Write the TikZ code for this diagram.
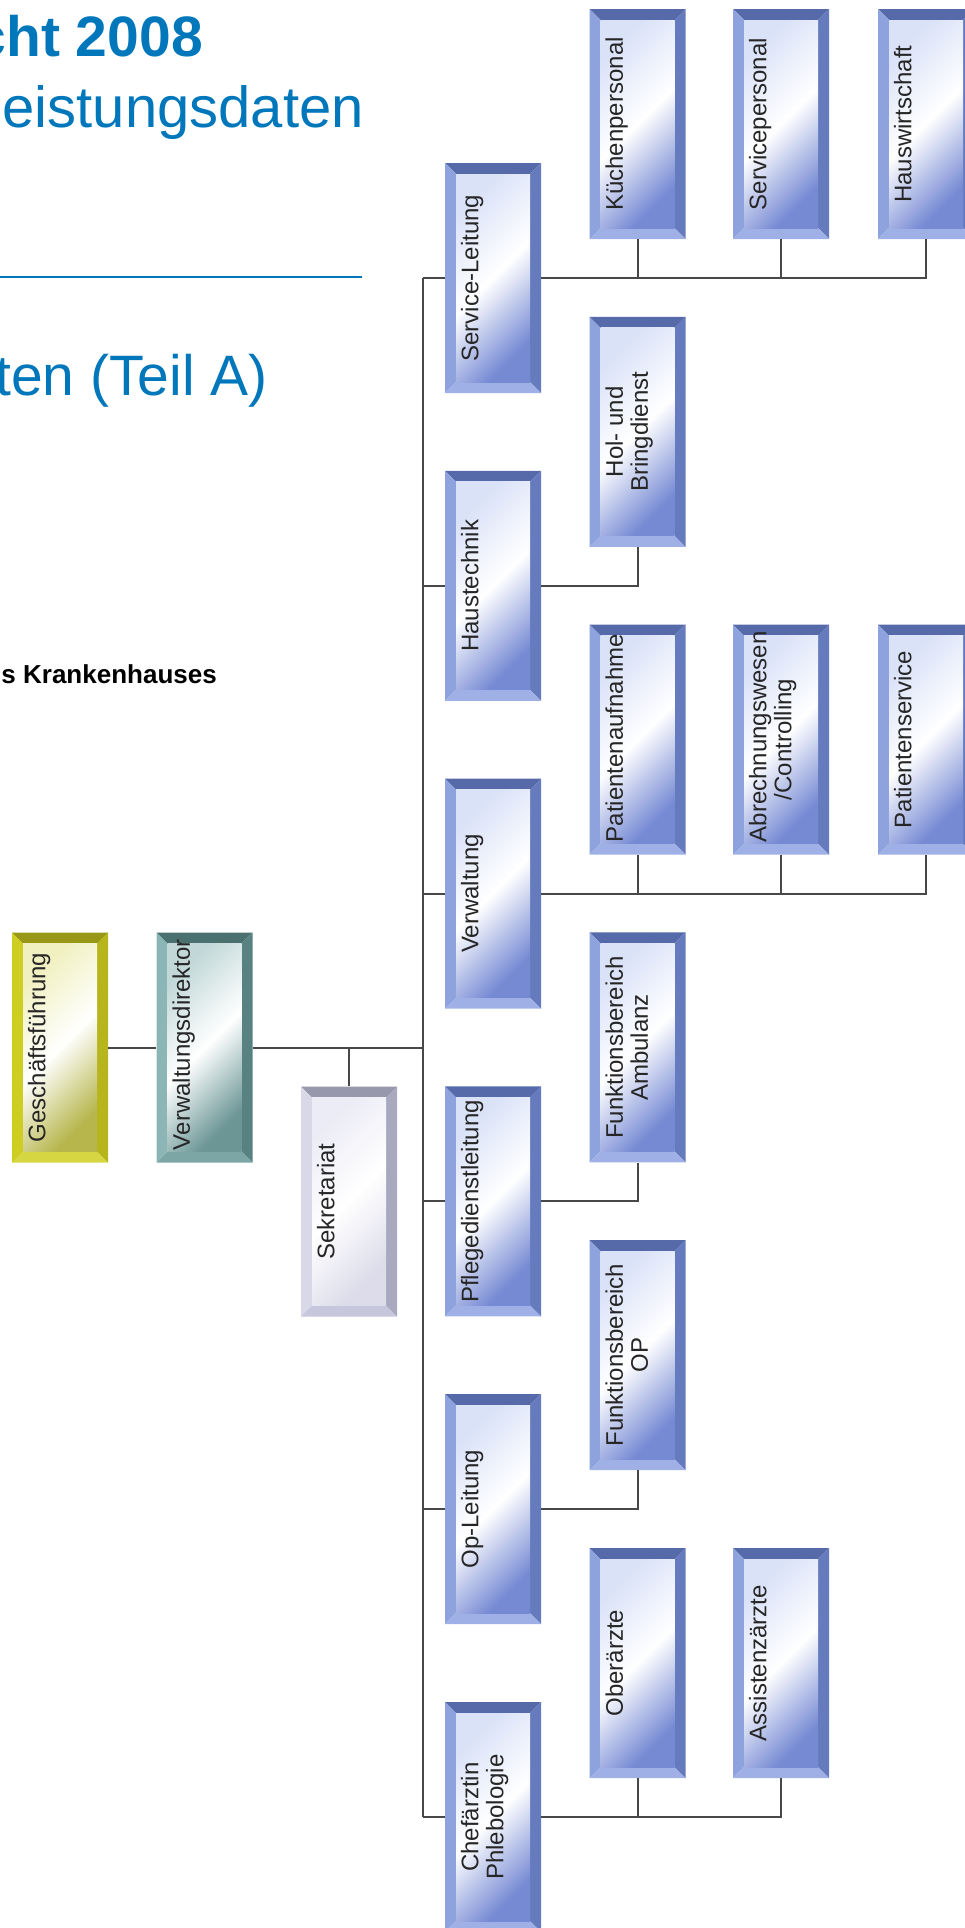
\documentclass[tikz,border=0pt]{standalone}
\usepackage{fontspec}
\setmainfont{Liberation Sans}
\usepackage{graphicx}
\usepackage{xcolor}
\definecolor{titleblue}{RGB}{0, 119, 187}
\definecolor{linegray}{RGB}{72, 72, 72}
\definecolor{unittop}{RGB}{86, 106, 170}
\definecolor{unitleft}{RGB}{142, 162, 222}
\definecolor{unitright}{RGB}{102, 122, 190}
\definecolor{unitbottom}{RGB}{158, 176, 230}
\definecolor{unittint}{RGB}{218, 226, 248}
\definecolor{unitdark}{RGB}{118, 138, 212}
\definecolor{gftop}{RGB}{152, 152, 22}
\definecolor{gfleft}{RGB}{205, 205, 34}
\definecolor{gfright}{RGB}{182, 182, 28}
\definecolor{gfbottom}{RGB}{214, 214, 66}
\definecolor{gftint}{RGB}{240, 240, 192}
\definecolor{gfdark}{RGB}{182, 182, 76}
\definecolor{vdtop}{RGB}{74, 112, 112}
\definecolor{vdleft}{RGB}{140, 182, 182}
\definecolor{vdright}{RGB}{88, 130, 130}
\definecolor{vdbottom}{RGB}{124, 166, 166}
\definecolor{vdtint}{RGB}{194, 216, 216}
\definecolor{vddark}{RGB}{108, 150, 150}
\definecolor{sektop}{RGB}{152, 152, 172}
\definecolor{sekleft}{RGB}{216, 216, 232}
\definecolor{sekright}{RGB}{168, 168, 190}
\definecolor{sekbottom}{RGB}{198, 198, 220}
\definecolor{sektint}{RGB}{236, 236, 246}
\definecolor{sekdark}{RGB}{220, 220, 234}
\usepackage{tikz}
\usetikzlibrary{calc}

\newcommand{\vlabel}[1]{\rotatebox{90}{\parbox[c][64pt][t]{205pt}{\centering\fontsize{24}{25}\selectfont #1}}}

\begin{document}
\begin{tikzpicture}[x=1pt, y=-1pt,
    unit/.style={rectangle, inner sep=0pt, minimum width=96pt, minimum height=230pt, fill=white, text=black!85},
    box/.style={path picture={
      \coordinate (nw) at (path picture bounding box.north west);
      \coordinate (ne) at (path picture bounding box.north east);
      \coordinate (sw) at (path picture bounding box.south west);
      \coordinate (se) at (path picture bounding box.south east);
      \coordinate (inw) at ($(nw)+(11pt,-11pt)$);
      \coordinate (ine) at ($(ne)+(-11pt,-11pt)$);
      \coordinate (isw) at ($(sw)+(11pt,11pt)$);
      \coordinate (ise) at ($(se)+(-11pt,11pt)$);
      \fill[#1top] (nw) -- (ne) -- (ine) -- (inw) -- cycle;
      \fill[#1left] (nw) -- (inw) -- (isw) -- (sw) -- cycle;
      \fill[#1right] (ne) -- (se) -- (ise) -- (ine) -- cycle;
      \fill[#1bottom] (sw) -- (isw) -- (ise) -- (se) -- cycle;
      \shade[top color=#1tint, bottom color=#1dark, middle color=white, shading angle=45] (inw) rectangle (ise);
    }},
    link/.style={draw=linegray, line width=2pt},
    heading/.style={text=titleblue, inner sep=0pt, anchor=base east}
  ]
  \useasboundingbox (0,0) rectangle (965,1928);
  \clip (0,0) rectangle (965,1928);

  % page heading
  \node[heading, font=\bfseries\fontsize{57}{60}\selectfont] (jahr) at (203,56) {cht 2008};
  \node[heading, font=\fontsize{58}{60}\selectfont] (daten) at (364,127) {eistungsdaten};
  \draw[titleblue, line width=2.5pt] (0,277) -- (362,277);
  \node[heading, font=\fontsize{57}{60}\selectfont] (teil) at (268,395) {ten (Teil A)};
  \node[heading, text=black, font=\bfseries\fontsize{26}{28}\selectfont] (haus) at (217,683) {s Krankenhauses};

  % leitung
  \node[unit, box=gf] (gf) at (60,1047.5) {\vlabel{Geschäftsführung}};
  \node[unit, box=vd] (vd) at (204.5,1047.5) {\vlabel{Verwaltungsdirektor}};
  \node[unit, box=sek] (sek) at (349,1201.5) {\vlabel{Sekretariat}};

  % bereiche
  \node[unit, box=unit] (sl) at (493,278) {\vlabel{Service-Leitung}};
  \node[unit, box=unit] (ht) at (493,585.8) {\vlabel{Haustechnik}};
  \node[unit, box=unit] (vw) at (493,893.6) {\vlabel{Verwaltung}};
  \node[unit, box=unit] (pd) at (493,1201.4) {\vlabel{Pflegedienstleitung}};
  \node[unit, box=unit] (op) at (493,1509.2) {\vlabel{Op-Leitung}};
  \node[unit, box=unit] (cp) at (493,1817) {\vlabel{Chefärztin\\Phlebologie}};

  % abteilungen
  \node[unit, box=unit] (kp) at (637.5,124) {\vlabel{Küchenpersonal}};
  \node[unit, box=unit] (sp) at (781,124) {\vlabel{Servicepersonal}};
  \node[unit, box=unit] (hw) at (926,124) {\vlabel{Hauswirtschaft}};
  \node[unit, box=unit] (hb) at (637.5,431.8) {\vlabel{Hol- und\\Bringdienst}};
  \node[unit, box=unit] (pa) at (637.5,739.6) {\vlabel{Patientenaufnahme}};
  \node[unit, box=unit] (ac) at (781,739.6) {\vlabel{Abrechnungswesen\\/Controlling}};
  \node[unit, box=unit] (ps) at (926,739.6) {\vlabel{Patientenservice}};
  \node[unit, box=unit] (fa) at (637.5,1047.4) {\vlabel{Funktionsbereich\\Ambulanz}};
  \node[unit, box=unit] (fo) at (637.5,1355.2) {\vlabel{Funktionsbereich\\OP}};
  \node[unit, box=unit] (oa) at (637.5,1663) {\vlabel{Oberärzte}};
  \node[unit, box=unit] (az) at (781,1663) {\vlabel{Assistenzärzte}};

  % linien
  \coordinate (bus) at (423,1047.5);
  \draw[link] (gf.east) -- (vd.west);
  \draw[link] (vd.east) -- (bus);
  \draw[link] (sek.north) -- (sek.north |- bus);
  \draw[link] (sl.west -| bus) -- (cp.west -| bus);
  \foreach \n in {sl,ht,vw,pd,op,cp}
    \draw[link] (\n.west) -- (\n.west -| bus);
  \draw[link] (sl.east) -| (hw.south);
  \draw[link] (kp.south) -- (kp.south |- sl.east);
  \draw[link] (sp.south) -- (sp.south |- sl.east);
  \draw[link] (ht.east) -| (hb.south);
  \draw[link] (vw.east) -| (ps.south);
  \draw[link] (pa.south) -- (pa.south |- vw.east);
  \draw[link] (ac.south) -- (ac.south |- vw.east);
  \draw[link] (pd.east) -| (fa.south);
  \draw[link] (op.east) -| (fo.south);
  \draw[link] (cp.east) -| (az.south);
  \draw[link] (oa.south) -- (oa.south |- cp.east);
\end{tikzpicture}
\end{document}
